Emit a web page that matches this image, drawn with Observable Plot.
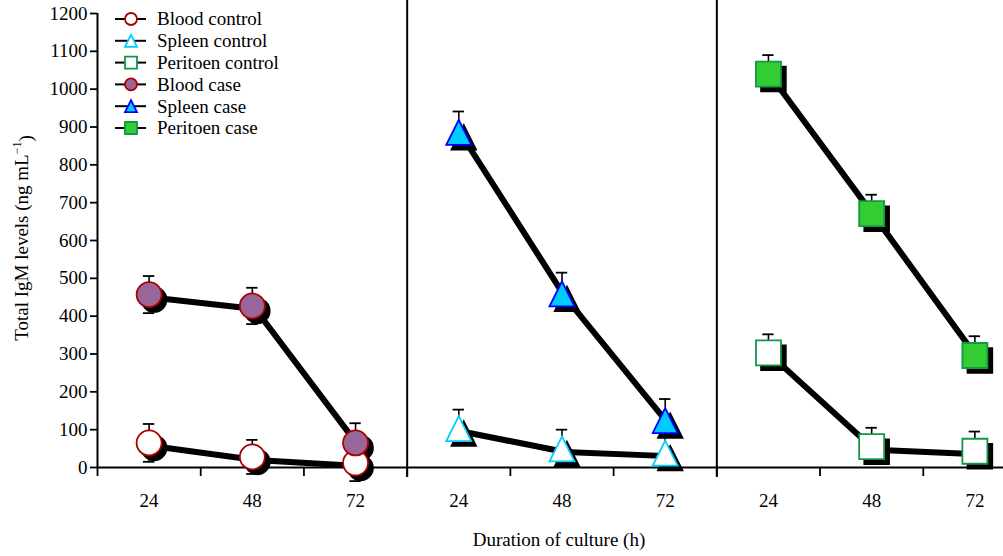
<!DOCTYPE html>
<html><head><meta charset="utf-8">
<script src="https://cdn.jsdelivr.net/npm/d3@7"></script>
<script src="https://cdn.jsdelivr.net/npm/@observablehq/plot@0.6"></script>
<style>
html,body{margin:0;padding:0;background:#fff;overflow:hidden;}
#chart svg{font-family:"Liberation Serif","Times New Roman",serif;background:#fff;}
</style></head><body><div id="chart"></div>
<script>
// ---- data ----
const hours = [24, 48, 72];
const tissues = ["Blood", "Spleen", "Peritoen"];
const yTicks = [0, 100, 200, 300, 400, 500, 600, 700, 800, 900, 1000, 1100, 1200];

const bloodControl = [65, 28, 12];
const bloodControlSD = [50, 45, 48];
const spleenControl = [103, 49, 38];
const spleenControlSD = [50, 51, 50];
const peritoenControl = [303, 55, 43];
const peritoenControlSD = [49, 50, 52];
const bloodCase = [457, 427, 65];
const bloodCaseSD = [49, 48, 52];
const spleenCase = [886, 459, 124];
const spleenCaseSD = [55, 56, 57];
const peritoenCase = [1040, 671, 296];
const peritoenCaseSD = [50, 50, 51];

const seriesNames = ["Blood control", "Spleen control", "Peritoen control", "Blood case", "Spleen case", "Peritoen case"];
const seriesTissue = ["Blood", "Spleen", "Peritoen", "Blood", "Spleen", "Peritoen"];
const seriesValues = [bloodControl, spleenControl, peritoenControl, bloodCase, spleenCase, peritoenCase];
const seriesSD = [bloodControlSD, spleenControlSD, peritoenControlSD, bloodCaseSD, spleenCaseSD, peritoenCaseSD];
const seriesLowerBar = [true, false, false, true, false, false];
const seriesShape = ["circle", "triangle", "square", "circle", "triangle", "square"];
const seriesFill = ["#ffffff", "#ffffff", "#ffffff", "#996699", "#00ccff", "#33cc33"];
const seriesStroke = ["#aa0000", "#00ccff", "#119944", "#aa0000", "#0000ff", "#119944"];

// ---- custom symbols (half-extent = r) ----
const symCircle = d3.symbolCircle;
const symSquare = {draw(ctx, size) { const r = Math.sqrt(size / Math.PI); ctx.rect(-r, -r, 2 * r, 2 * r); }};
const symTriangle = {draw(ctx, size) { const r = Math.sqrt(size / Math.PI); ctx.moveTo(0, -r); ctx.lineTo(r, r); ctx.lineTo(-r, r); ctx.closePath(); }};
const shapeSym = {circle: symCircle, square: symSquare, triangle: symTriangle};

const rows = [];
seriesNames.forEach((name, s) => {
  const t = tissues.indexOf(seriesTissue[s]);
  hours.forEach((h, i) => {
    rows.push({series: name, slot: t * 3 + i + 0.5, value: seriesValues[s][i], sd: seriesSD[s][i],
      lower: seriesLowerBar[s], shape: seriesShape[s], fill: seriesFill[s], stroke: seriesStroke[s]});
  });
});
const slotCenters = d3.range(9).map(i => i + 0.5);
const boundaries = d3.range(10);
const lowerRows = rows.filter(d => d.lower);

const dotMarks = [];
for (const shape of ["circle", "triangle", "square"]) {
  const sub = rows.filter(d => d.shape === shape);
  dotMarks.push(Plot.dot(sub, {x: "slot", y: "value", r: 12.5, symbol: shapeSym[shape], fill: "black", stroke: "black", dx: 5, dy: 5}));
}
for (const shape of ["circle", "triangle", "square"]) {
  const sub = rows.filter(d => d.shape === shape);
  dotMarks.push(Plot.dot(sub, {x: "slot", y: "value", r: 12.5, symbol: shapeSym[shape], fill: "fill", stroke: "stroke", strokeWidth: 1.8}));
}

const FS = 19;
const plot = Plot.plot({
  width: 1003,
  height: 556,
  marginLeft: 97,
  marginTop: 13,
  marginBottom: 89,
  marginRight: 0,
  style: {fontFamily: "'Liberation Serif','Times New Roman',serif", fontSize: FS + "px", background: "#fff"},
  x: {domain: [0, 9], range: [97, 1026]},
  y: {domain: [0, 1200]},
  color: {type: "identity"},
  marks: [
    Plot.axisY(yTicks, {tickSize: 7, tickPadding: 3, tickFormat: d => String(d), label: null, fontSize: FS, strokeWidth: 1.8}),
    Plot.axisX(boundaries, {tickSize: 9, tickFormat: () => "", label: null, strokeWidth: 1.8}),
    Plot.axisX(slotCenters, {tickSize: 0, tickPadding: 26, tickFormat: d => String(hours[Math.floor(d) % 3]), label: null, fontSize: FS}),
    Plot.ruleX([0], {strokeWidth: 2, insetBottom: -1}),
    Plot.ruleY([0], {strokeWidth: 2}),
    Plot.ruleX([3, 6], {strokeWidth: 2, insetTop: -13, insetBottom: -10}),
    Plot.ruleX(rows, {x: "slot", y1: "value", y2: d => d.value + d.sd, strokeWidth: 1.6}),
    Plot.ruleX(lowerRows, {x: "slot", y1: d => d.value - d.sd, y2: "value", strokeWidth: 1.6}),
    Plot.ruleY(rows, {y: d => d.value + d.sd, x1: d => d.slot - 0.055, x2: d => d.slot + 0.055, strokeWidth: 1.8}),
    Plot.ruleY(lowerRows, {y: d => d.value - d.sd, x1: d => d.slot - 0.055, x2: d => d.slot + 0.055, strokeWidth: 1.8}),
    Plot.line(rows, {x: "slot", y: "value", z: "series", stroke: "black", strokeWidth: 6, dx: 3, dy: 3}),
    ...dotMarks
  ]
});

const svg = d3.select(plot);
// Y axis title
const yt = svg.append("text")
  .attr("transform", "translate(28,238) rotate(-90)")
  .attr("text-anchor", "middle")
  .attr("font-size", FS)
  .attr("fill", "black");
yt.append("tspan").text("Total IgM levels (ng mL");
yt.append("tspan").attr("dy", "-0.55em").attr("font-size", 12).text("\u22121");
yt.append("tspan").attr("dy", "0.55em").text(")");

// X axis title
svg.append("text")
  .attr("x", 559).attr("y", 546)
  .attr("text-anchor", "middle")
  .attr("font-size", FS)
  .attr("fill", "black")
  .text("Duration of culture (h)");

// Legend
const lg = svg.append("g");
seriesNames.forEach((name, s) => {
  const y = 19 + s * 21.8;
  const g = lg.append("g").attr("transform", `translate(0,${y})`);
  g.append("line").attr("x1", 115).attr("x2", 146).attr("stroke", "black").attr("stroke-width", 2);
  g.append("path").attr("transform", "translate(131,0)")
    .attr("d", d3.symbol(shapeSym[seriesShape[s]], Math.PI * 6 * 6)())
    .attr("fill", seriesFill[s]).attr("stroke", seriesStroke[s]).attr("stroke-width", 1.8);
  g.append("text").attr("x", 157).attr("y", 0).attr("dy", "0.34em")
    .attr("text-anchor", "start").attr("font-size", FS).attr("fill", "black").text(name);
});

document.getElementById("chart").appendChild(plot);
</script>
</body></html>
